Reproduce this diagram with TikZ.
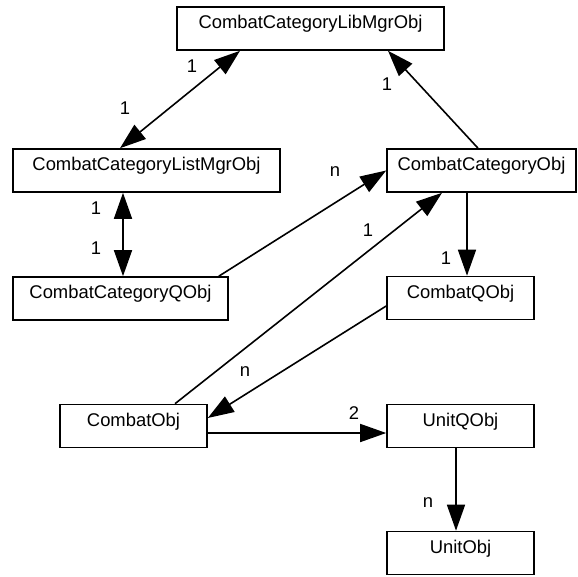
\documentclass[tikz,border=0pt]{standalone}
\usepackage{fontspec}
\setmainfont{Liberation Sans}
\usetikzlibrary{arrows.meta}

\begin{document}
\begin{tikzpicture}[x=1pt, y=-1pt,
	>={Triangle[length=26pt, width=18pt]},
	every node/.style={font=\fontsize{18.4}{22}\selectfont},
	obj/.style={draw, line width=1.6pt, inner sep=0pt, minimum height=43pt, text height=13pt, text depth=13pt},
	link/.style={line width=1.6pt},
	mult/.style={inner sep=0pt}]
	\useasboundingbox (0,0) rectangle (578,576);
	% classes
	\node[obj, minimum width=267pt] (libmgr) at (310.5,28.5) {CombatCategoryLibMgrObj};
	\node[obj, minimum width=267pt] (listmgr) at (146.5,170.5) {CombatCategoryListMgrObj};
	\node[obj, minimum width=189pt] (catobj) at (481.5,170.5) {CombatCategoryObj};
	\node[obj, minimum width=215pt] (catq) at (120.5,298.5) {CombatCategoryQObj};
	\node[obj, minimum width=147pt] (combatq) at (460.5,298) {CombatQObj};
	\node[obj, minimum width=147pt] (combat) at (133.5,426) {CombatObj};
	\node[obj, minimum width=147pt] (unitq) at (460.5,426) {UnitQObj};
	\node[obj, minimum width=147pt] (unit) at (460.5,553) {UnitObj};
	% associations
	\draw[link, <->] ([xshift=-26.5pt]listmgr.north) -- ([xshift=-70.5pt]libmgr.south)
		node[mult] (m1) at (192,66) {1} node[mult] (m2) at (125,108) {1};
	\draw[link, ->] ([xshift=-3.5pt]catobj.north) -- ([xshift=77.5pt]libmgr.south)
		node[mult] (m3) at (387,84) {1};
	\draw[link, <->] ([xshift=-23.5pt]listmgr.south) -- ([xshift=2.5pt]catq.north)
		node[mult] (m4) at (96,208) {1} node[mult] (m5) at (96,248) {1};
	\draw[link, ->] ([xshift=-10pt]catq.north east) -- (catobj.west)
		node[mult] (m6) at (335,172) {n};
	\draw[link, ->] ([xshift=41.5pt]combat.north) -- ([xshift=-39.5pt]catobj.south)
		node[mult] (m7) at (368,230) {1};
	\draw[link, ->] ([xshift=-14.5pt]catobj.south) -- ([xshift=6.5pt]combatq.north)
		node[mult] (m8) at (446,258) {1};
	\draw[link, ->] ([yshift=-8pt]combatq.west) -- ([yshift=8pt]combat.east)
		node[mult] (m9) at (245,372) {n};
	\draw[link, ->] ([yshift=-7pt]combat.east) -- ([yshift=-7pt]unitq.west)
		node[mult] (m10) at (354,413) {2};
	\draw[link, ->] ([xshift=-4.5pt]unitq.south) -- ([xshift=-4.5pt]unit.north)
		node[mult] (m11) at (428,503) {n};
\end{tikzpicture}
\end{document}
